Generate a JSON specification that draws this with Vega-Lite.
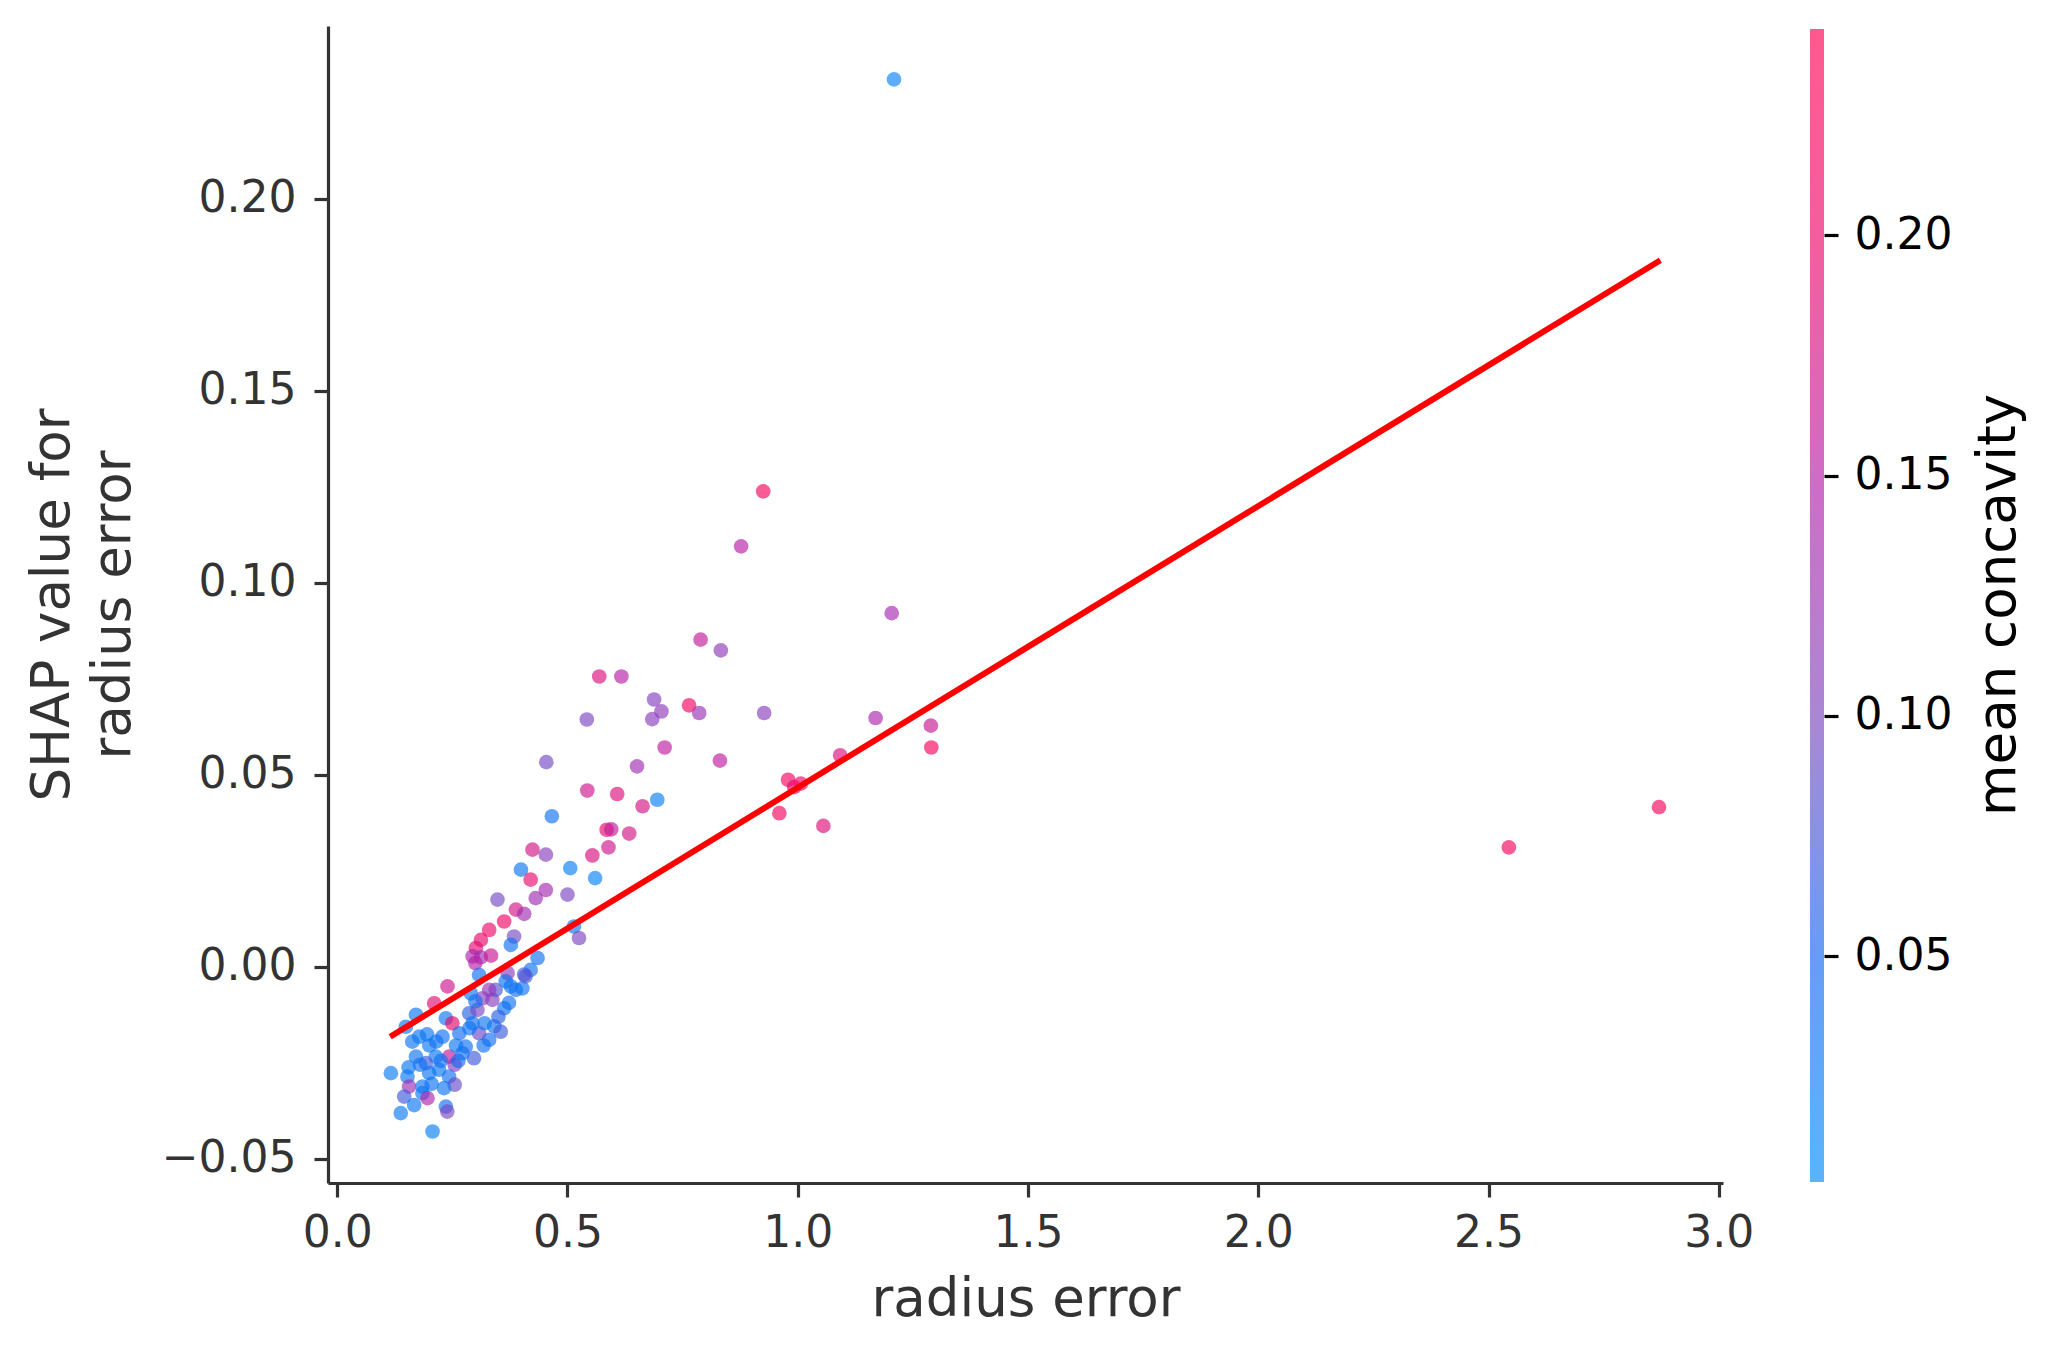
{
  "$schema": "https://vega.github.io/schema/vega-lite/v6.json",
  "background": "white",
  "padding": {"left": 26, "top": 26, "right": 5, "bottom": 5},
  "config": {
    "font": "DejaVu Sans",
    "view": {"stroke": null}
  },
  "spacing": 87,
  "bounds": "flush",
  "datasets": {
    "pts": [
      {"x": 1.209, "y": 0.2311, "c": 0.015},
      {"x": 0.925, "y": 0.1238, "c": 0.225},
      {"x": 0.877, "y": 0.1095, "c": 0.15},
      {"x": 1.204, "y": 0.0921, "c": 0.135},
      {"x": 0.789, "y": 0.0852, "c": 0.16},
      {"x": 0.833, "y": 0.0824, "c": 0.115},
      {"x": 0.569, "y": 0.0756, "c": 0.18},
      {"x": 0.617, "y": 0.0756, "c": 0.15},
      {"x": 0.688, "y": 0.0696, "c": 0.105},
      {"x": 0.704, "y": 0.0665, "c": 0.115},
      {"x": 0.684, "y": 0.0645, "c": 0.11},
      {"x": 0.764, "y": 0.0681, "c": 0.215},
      {"x": 0.786, "y": 0.0661, "c": 0.125},
      {"x": 0.542, "y": 0.0644, "c": 0.1},
      {"x": 0.927, "y": 0.0661, "c": 0.11},
      {"x": 1.169, "y": 0.0648, "c": 0.14},
      {"x": 1.289, "y": 0.0628, "c": 0.165},
      {"x": 0.711, "y": 0.0571, "c": 0.155},
      {"x": 1.29, "y": 0.0571, "c": 0.225},
      {"x": 1.092, "y": 0.0551, "c": 0.18},
      {"x": 0.454, "y": 0.0533, "c": 0.095},
      {"x": 0.831, "y": 0.0537, "c": 0.155},
      {"x": 0.651, "y": 0.0522, "c": 0.13},
      {"x": 0.979, "y": 0.0487, "c": 0.215},
      {"x": 1.0065, "y": 0.0477, "c": 0.215},
      {"x": 0.992, "y": 0.0468, "c": 0.2},
      {"x": 0.543, "y": 0.0459, "c": 0.17},
      {"x": 0.608, "y": 0.045, "c": 0.185},
      {"x": 0.663, "y": 0.0418, "c": 0.175},
      {"x": 0.695, "y": 0.0435, "c": 0.02},
      {"x": 0.466, "y": 0.0392, "c": 0.04},
      {"x": 0.96, "y": 0.040, "c": 0.22},
      {"x": 1.0556, "y": 0.0367, "c": 0.185},
      {"x": 0.585, "y": 0.0357, "c": 0.2},
      {"x": 0.595, "y": 0.0358, "c": 0.16},
      {"x": 0.634, "y": 0.0347, "c": 0.175},
      {"x": 0.424, "y": 0.0305, "c": 0.175},
      {"x": 0.453, "y": 0.0292, "c": 0.11},
      {"x": 0.589, "y": 0.0311, "c": 0.17},
      {"x": 0.554, "y": 0.029, "c": 0.18},
      {"x": 0.506, "y": 0.0257, "c": 0.02},
      {"x": 0.399, "y": 0.0253, "c": 0.035},
      {"x": 0.56, "y": 0.0231, "c": 0.015},
      {"x": 0.420, "y": 0.0227, "c": 0.195},
      {"x": 0.453, "y": 0.020, "c": 0.135},
      {"x": 0.5, "y": 0.0188, "c": 0.1},
      {"x": 0.348, "y": 0.0175, "c": 0.095},
      {"x": 0.431, "y": 0.0179, "c": 0.13},
      {"x": 0.388, "y": 0.0149, "c": 0.175},
      {"x": 0.406, "y": 0.0138, "c": 0.13},
      {"x": 0.3625, "y": 0.0118, "c": 0.21},
      {"x": 0.33, "y": 0.0096, "c": 0.205},
      {"x": 0.514, "y": 0.0105, "c": 0.03},
      {"x": 0.384, "y": 0.0079, "c": 0.095},
      {"x": 0.525, "y": 0.0075, "c": 0.1},
      {"x": 0.312, "y": 0.007, "c": 0.2},
      {"x": 0.377, "y": 0.0057, "c": 0.04},
      {"x": 0.301, "y": 0.0049, "c": 0.19},
      {"x": 0.294, "y": 0.0027, "c": 0.14},
      {"x": 0.312, "y": 0.0025, "c": 0.13},
      {"x": 0.334, "y": 0.0029, "c": 0.165},
      {"x": 0.30, "y": 0.001, "c": 0.15},
      {"x": 0.435, "y": 0.0023, "c": 0.04},
      {"x": 0.308, "y": -0.0021, "c": 0.04},
      {"x": 0.42, "y": -0.0008, "c": 0.04},
      {"x": 0.406, "y": -0.002, "c": 0.07},
      {"x": 0.37, "y": -0.0016, "c": 0.11},
      {"x": 2.870, "y": 0.0416, "c": 0.225},
      {"x": 2.544, "y": 0.0311, "c": 0.225},
      {"x": 0.2395, "y": -0.0051, "c": 0.17},
      {"x": 0.2106, "y": -0.0095, "c": 0.19},
      {"x": 0.171, "y": -0.0125, "c": 0.03},
      {"x": 0.149, "y": -0.0156, "c": 0.03},
      {"x": 0.236, "y": -0.0134, "c": 0.035},
      {"x": 0.250, "y": -0.0147, "c": 0.2},
      {"x": 0.178, "y": -0.0182, "c": 0.03},
      {"x": 0.195, "y": -0.0176, "c": 0.03},
      {"x": 0.2286, "y": -0.0182, "c": 0.04},
      {"x": 0.265, "y": -0.0173, "c": 0.045},
      {"x": 0.2865, "y": -0.0121, "c": 0.06},
      {"x": 0.3046, "y": -0.0112, "c": 0.1},
      {"x": 0.3155, "y": -0.0082, "c": 0.11},
      {"x": 0.337, "y": -0.0086, "c": 0.11},
      {"x": 0.344, "y": -0.006, "c": 0.08},
      {"x": 0.330, "y": -0.006, "c": 0.12},
      {"x": 0.366, "y": -0.0038, "c": 0.04},
      {"x": 0.377, "y": -0.0051, "c": 0.035},
      {"x": 0.388, "y": -0.006, "c": 0.04},
      {"x": 0.402, "y": -0.0056, "c": 0.035},
      {"x": 0.409, "y": -0.0025, "c": 0.08},
      {"x": 0.3625, "y": -0.0108, "c": 0.04},
      {"x": 0.373, "y": -0.0094, "c": 0.04},
      {"x": 0.341, "y": -0.0155, "c": 0.04},
      {"x": 0.355, "y": -0.0169, "c": 0.07},
      {"x": 0.33, "y": -0.019, "c": 0.04},
      {"x": 0.308, "y": -0.0173, "c": 0.09},
      {"x": 0.2937, "y": -0.0147, "c": 0.04},
      {"x": 0.287, "y": -0.016, "c": 0.03},
      {"x": 0.279, "y": -0.0208, "c": 0.04},
      {"x": 0.297, "y": -0.0238, "c": 0.07},
      {"x": 0.243, "y": -0.0234, "c": 0.16},
      {"x": 0.255, "y": -0.0255, "c": 0.11},
      {"x": 0.214, "y": -0.0234, "c": 0.03},
      {"x": 0.1925, "y": -0.0251, "c": 0.07},
      {"x": 0.171, "y": -0.0234, "c": 0.035},
      {"x": 0.221, "y": -0.0268, "c": 0.035},
      {"x": 0.1997, "y": -0.0277, "c": 0.035},
      {"x": 0.1165, "y": -0.0277, "c": 0.025},
      {"x": 0.1526, "y": -0.0286, "c": 0.03},
      {"x": 0.243, "y": -0.0286, "c": 0.04},
      {"x": 0.255, "y": -0.0307, "c": 0.09},
      {"x": 0.232, "y": -0.0316, "c": 0.035},
      {"x": 0.156, "y": -0.0312, "c": 0.13},
      {"x": 0.185, "y": -0.0312, "c": 0.03},
      {"x": 0.185, "y": -0.0329, "c": 0.035},
      {"x": 0.196, "y": -0.0342, "c": 0.14},
      {"x": 0.1454, "y": -0.0338, "c": 0.07},
      {"x": 0.167, "y": -0.036, "c": 0.03},
      {"x": 0.138, "y": -0.0381, "c": 0.025},
      {"x": 0.236, "y": -0.0364, "c": 0.04},
      {"x": 0.239, "y": -0.0377, "c": 0.1},
      {"x": 0.207, "y": -0.0429, "c": 0.02},
      {"x": 0.163, "y": -0.0195, "c": 0.035},
      {"x": 0.2, "y": -0.0205, "c": 0.03},
      {"x": 0.215, "y": -0.0195, "c": 0.04},
      {"x": 0.258, "y": -0.0205, "c": 0.035},
      {"x": 0.272, "y": -0.0225, "c": 0.04},
      {"x": 0.263, "y": -0.0245, "c": 0.045},
      {"x": 0.18, "y": -0.0255, "c": 0.04},
      {"x": 0.205, "y": -0.0305, "c": 0.04},
      {"x": 0.225, "y": -0.0245, "c": 0.04},
      {"x": 0.155, "y": -0.0262, "c": 0.03},
      {"x": 0.318, "y": -0.0205, "c": 0.04},
      {"x": 0.35, "y": -0.013, "c": 0.06},
      {"x": 0.30, "y": -0.009, "c": 0.04},
      {"x": 0.29, "y": -0.0069, "c": 0.04},
      {"x": 0.32, "y": -0.0147, "c": 0.035}
    ],
    "fit": [
      {"x": 0.115, "y": -0.0182},
      {"x": 2.873, "y": 0.184}
    ]
  },
  "hconcat": [
    {
      "width": 1395,
      "height": 1157,
      "layer": [
        {
          "data": {"name": "pts"},
          "mark": {"type": "circle", "size": 215, "opacity": 0.65},
          "encoding": {
            "x": {
              "field": "x", "type": "quantitative",
              "scale": {"domain": [-0.02, 3.009], "nice": false, "zero": false},
              "axis": {
                "title": "radius error",
                "values": [0, 0.5, 1, 1.5, 2, 2.5, 3],
                "format": ".1f",
                "grid": false,
                "domainColor": "#333333", "domainWidth": 3.2,
                "tickColor": "#333333", "tickWidth": 3.2, "tickSize": 14,
                "labelColor": "#333333", "labelFontSize": 44, "labelPadding": 14,
                "labelFlush": false, "labelOverlap": false,
                "titleColor": "#333333", "titleFontSize": 53, "titleFontWeight": "normal",
                "titlePadding": 18
              }
            },
            "y": {
              "field": "y", "type": "quantitative",
              "scale": {"domain": [-0.0563, 0.245], "nice": false, "zero": false},
              "axis": {
                "title": ["SHAP value for", "radius error"],
                "values": [-0.05, 0, 0.05, 0.1, 0.15, 0.2],
                "format": ".2f",
                "grid": false,
                "domainColor": "#333333", "domainWidth": 3.2,
                "tickColor": "#333333", "tickWidth": 3.2, "tickSize": 14,
                "labelColor": "#333333", "labelFontSize": 44, "labelPadding": 18,
                "labelFlush": false, "labelOverlap": false,
                "titleColor": "#333333", "titleFontSize": 53, "titleFontWeight": "normal",
                "titleLineHeight": 61,
                "titleAngle": 270,
                "titleAlign": "center",
                "titleBaseline": "middle",
                "titleX": -276
              }
            },
            "color": {
              "field": "c", "type": "quantitative",
              "scale": {
                "domain": [0.003, 0.243],
                "range": ["#008BFB", "#1468EE", "#7C46C1", "#B41EAA", "#E8096D", "#FF0052"],
                "interpolate": "rgb"
              },
              "legend": null
            }
          }
        },
        {
          "data": {"name": "fit"},
          "mark": {"type": "line", "color": "#FF0000", "strokeWidth": 6},
          "encoding": {
            "x": {"field": "x", "type": "quantitative"},
            "y": {"field": "y", "type": "quantitative"}
          }
        }
      ]
    },
    {
      "width": 14,
      "height": 1157,
      "data": {"values": [{"lo": 0.003, "hi": 0.243, "a": 0, "b": 1}]},
      "mark": {
        "type": "rect",
        "opacity": 0.65,
        "color": {
          "gradient": "linear",
          "x1": 0, "y1": 1, "x2": 0, "y2": 0,
          "stops": [
            {"offset": 0, "color": "#008BFB"},
            {"offset": 0.2, "color": "#1468EE"},
            {"offset": 0.4, "color": "#7C46C1"},
            {"offset": 0.6, "color": "#B41EAA"},
            {"offset": 0.8, "color": "#E8096D"},
            {"offset": 1, "color": "#FF0052"}
          ]
        }
      },
      "encoding": {
        "x": {"field": "a", "type": "quantitative", "scale": {"domain": [0, 1], "nice": false}, "axis": null},
        "x2": {"field": "b"},
        "y": {
          "field": "lo", "type": "quantitative",
          "scale": {"domain": [0.0028, 0.2436], "nice": false, "zero": false},
          "axis": {
            "orient": "right",
            "title": "mean concavity",
            "values": [0.05, 0.1, 0.15, 0.2],
            "format": ".2f",
            "grid": false,
            "domain": false,
            "tickColor": "#000000", "tickWidth": 3.2, "tickSize": 14,
            "labelColor": "#000000", "labelFontSize": 44, "labelPadding": 16,
            "labelFlush": false, "labelOverlap": false,
            "titleColor": "#000000", "titleFontSize": 53, "titleFontWeight": "normal",
            "titleAngle": 270,
            "titleAlign": "center",
            "titleBaseline": "middle",
            "titleX": 174
          }
        },
        "y2": {"field": "hi"}
      }
    }
  ]
}
